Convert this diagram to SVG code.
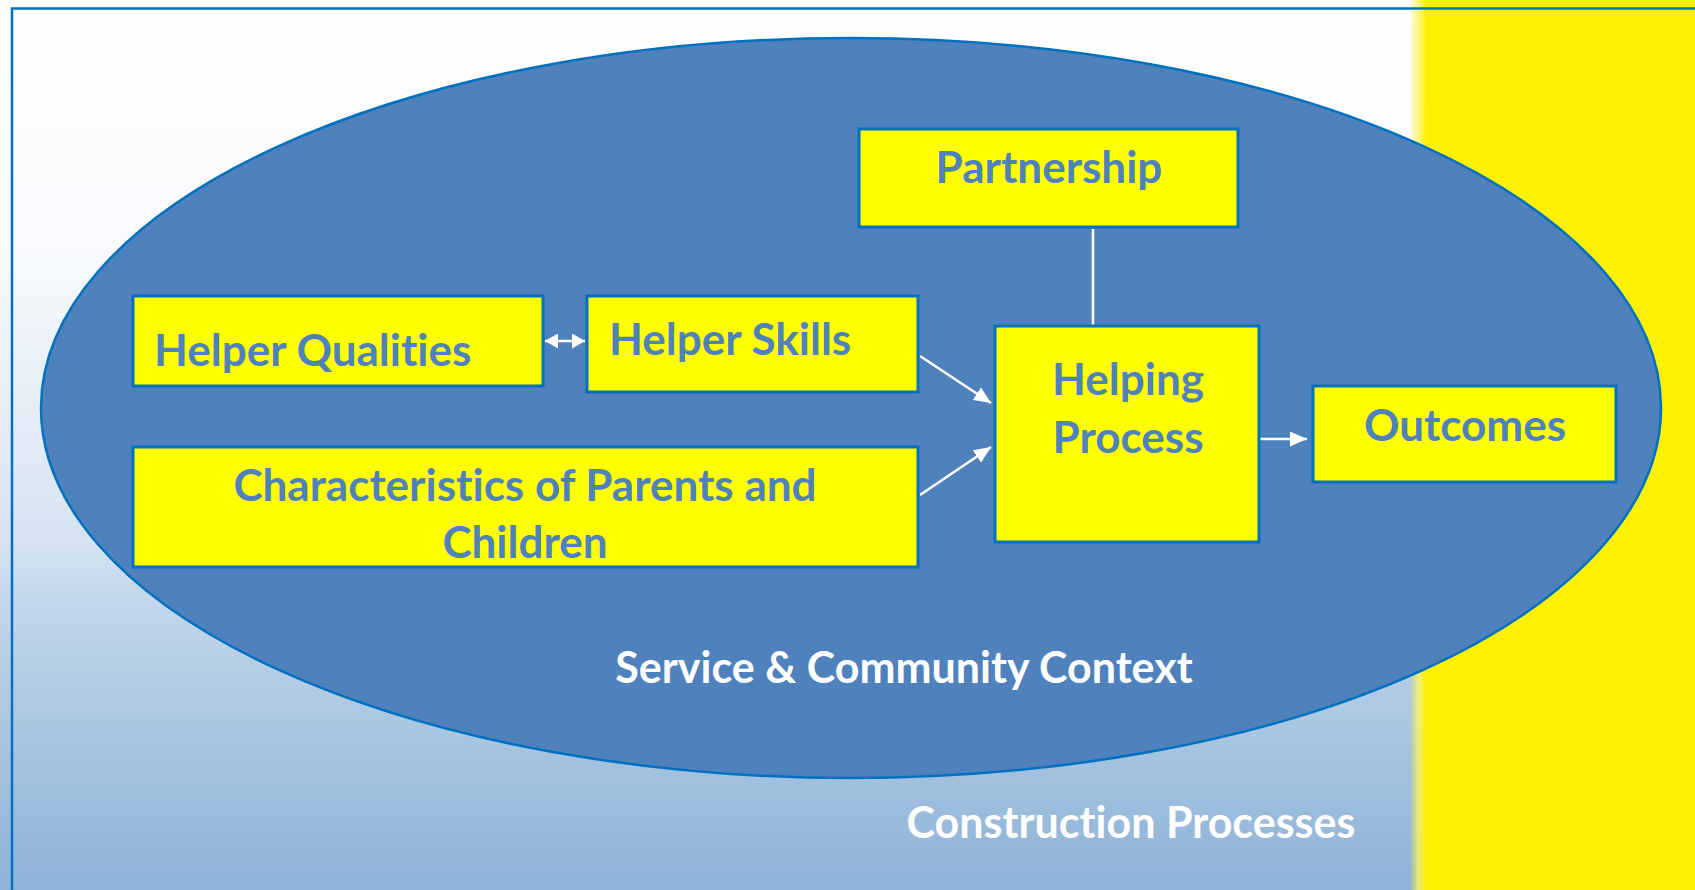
<svg xmlns="http://www.w3.org/2000/svg" width="1695" height="890" viewBox="0 0 1695 890">
  <defs>
    <linearGradient id="bg" x1="0" y1="0" x2="0" y2="890" gradientUnits="userSpaceOnUse">
      <stop offset="0" stop-color="#FFFFFF"/>
      <stop offset="0.28" stop-color="#F8FAFD"/>
      <stop offset="0.61" stop-color="#D5E3F1"/>
      <stop offset="0.67" stop-color="#C3D7EB"/>
      <stop offset="0.83" stop-color="#A7C5E1"/>
      <stop offset="1" stop-color="#8DB3D7"/>
    </linearGradient>
    <linearGradient id="band" x1="1410" y1="0" x2="1426" y2="0" gradientUnits="userSpaceOnUse">
      <stop offset="0" stop-color="#FFF200" stop-opacity="0"/>
      <stop offset="0.5" stop-color="#FFF56A" stop-opacity="0.8"/>
      <stop offset="1" stop-color="#FFF200"/>
    </linearGradient>
    <marker id="head" markerUnits="userSpaceOnUse" markerWidth="17" markerHeight="15" refX="17" refY="7.5" orient="auto-start-reverse" viewBox="0 0 17 15">
      <path d="M0,0 L17,7.5 L0,15 Z" fill="#FFFFFF"/>
    </marker>
    <marker id="headSmall" markerUnits="userSpaceOnUse" markerWidth="13" markerHeight="15" refX="13" refY="7.5" orient="auto-start-reverse" viewBox="0 0 13 15">
      <path d="M0,0 L13,7.5 L0,15 Z" fill="#FFFFFF"/>
    </marker>
  </defs>
  <style>
    .box { fill: #FFFF00; stroke: #0070C0; stroke-width: 3; }
    .label, .ctx {
      font-family: "Lato", "Open Sans", "Liberation Sans", sans-serif;
      font-weight: bold;
      font-variant-ligatures: none;
      font-feature-settings: "liga" 0, "clig" 0, "dlig" 0, "hlig" 0;
      letter-spacing: 0.01px;
    }
    .label { font-size: 44px; fill: #4F81BD; }
    .ctx { font-size: 43px; fill: #FFFFFF; }
    .link { stroke: #FFFFFF; stroke-width: 2.5; fill: none; }
  </style>

  <!-- background panel -->
  <rect x="0" y="0" width="1695" height="890" fill="url(#bg)"/>
  <rect x="1410" y="0" width="285" height="890" fill="url(#band)"/>
  <rect x="12" y="8.5" width="1700" height="900" fill="none" stroke="#0070C0" stroke-width="2.5"/>

  <!-- context ellipse -->
  <g id="context">
    <ellipse cx="851" cy="408" rx="810" ry="370" fill="#4F81BD" stroke="#0070C0" stroke-width="2.5"/>
    <text class="ctx" x="904" y="683" text-anchor="middle">Service &amp; Community Context</text>
  </g>

  <g id="construction">
    <text class="ctx" x="1131" y="838" text-anchor="middle">Construction Processes</text>
  </g>

  <!-- connectors -->
  <g id="connectors">
    <line class="link" x1="1093" y1="229" x2="1093" y2="327"/>
    <line class="link" x1="545" y1="341" x2="585" y2="341" marker-start="url(#headSmall)" marker-end="url(#headSmall)"/>
    <line class="link" x1="920" y1="356" x2="991" y2="403" marker-end="url(#head)"/>
    <line class="link" x1="920" y1="495" x2="991" y2="447" marker-end="url(#head)"/>
    <line class="link" x1="1260" y1="439" x2="1307" y2="439" marker-end="url(#head)"/>
  </g>

  <g id="partnership">
    <rect class="box" x="859" y="129" width="379" height="98"/>
    <text class="label" x="1049" y="183" text-anchor="middle">Partnership</text>
  </g>

  <g id="helper-qualities">
    <rect class="box" x="133" y="296" width="410" height="90"/>
    <text class="label" x="154" y="366">Helper Qualities</text>
  </g>

  <g id="helper-skills">
    <rect class="box" x="587" y="296" width="331" height="96"/>
    <text class="label" x="609" y="355">Helper Skills</text>
  </g>

  <g id="characteristics">
    <rect class="box" x="133" y="447" width="785" height="120"/>
    <text class="label" x="525" y="501" text-anchor="middle">Characteristics of Parents and</text>
    <text class="label" x="525" y="558" text-anchor="middle">Children</text>
  </g>

  <g id="helping-process">
    <rect class="box" x="995" y="326" width="264" height="216"/>
    <text class="label" x="1128" y="395" text-anchor="middle">Helping</text>
    <text class="label" x="1128" y="453" text-anchor="middle">Process</text>
  </g>

  <g id="outcomes">
    <rect class="box" x="1313" y="386" width="303" height="96"/>
    <text class="label" x="1465" y="441" text-anchor="middle">Outcomes</text>
  </g>
</svg>
